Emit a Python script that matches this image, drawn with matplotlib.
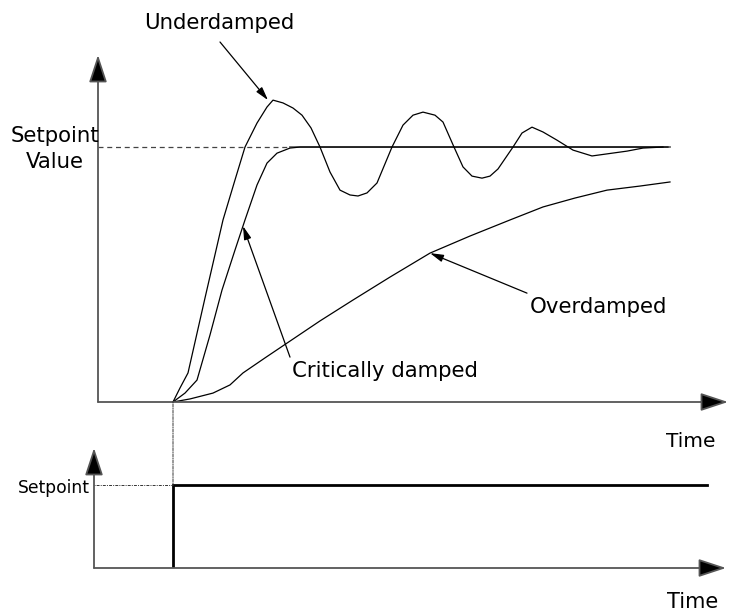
import matplotlib.pyplot as plt
from matplotlib.patches import ConnectionPatch
import numpy as np

plt.rcParams['font.family'] = ['DejaVu Sans']

W, H = 733, 614

# response curves, time in units after the step, value relative to setpoint
under_t = [0.0, 0.14, 0.3, 0.64, 1.0, 1.24, 1.44, 1.68, 1.88, 2.0, 2.2, 2.4, 2.58,
           2.76, 2.94, 3.14, 3.34, 3.54, 3.7, 3.88, 4.08, 4.38, 4.6, 4.8, 5.0,
           5.24, 5.4, 5.62, 5.8, 5.98, 6.18, 6.34, 6.5, 6.8, 6.98, 7.18, 7.4,
           7.68, 8.0, 8.38, 9.08, 9.4, 9.8]
under_v = [0.0, 0.055, 0.114, 0.408, 0.714, 0.871, 1.0, 1.094, 1.157, 1.184, 1.173,
           1.153, 1.125, 1.075, 1.0, 0.902, 0.831, 0.812, 0.808, 0.82, 0.859, 1.0,
           1.086, 1.125, 1.137, 1.125, 1.098, 1.0, 0.922, 0.886, 0.878, 0.886,
           0.914, 1.0, 1.055, 1.078, 1.059, 1.027, 0.988, 0.965, 0.984, 0.996, 1.0]

crit_t = [0.0, 0.24, 0.48, 0.74, 0.98, 1.24, 1.44, 1.68, 1.88, 2.08, 2.34, 2.54, 9.9]
crit_v = [0.0, 0.035, 0.086, 0.263, 0.439, 0.596, 0.714, 0.851, 0.937, 0.976,
          0.996, 1.0, 1.0]

over_t = [0.0, 0.34, 0.8, 1.14, 1.4, 1.84, 2.28, 2.94, 3.6, 4.34, 5.14, 5.94,
          6.74, 7.4, 8.04, 8.68, 9.34, 9.94]
over_v = [0.0, 0.012, 0.035, 0.067, 0.114, 0.173, 0.231, 0.318, 0.4, 0.49, 0.584,
          0.651, 0.714, 0.765, 0.8, 0.831, 0.847, 0.863]

# setpoint step input
step_t = [0.0, 0.0, 10.68]
step_v = [0.0, 1.0, 1.0]
setpoint = 1.0


def box(x0, y0, x1, y1):
    return [x0 / W, 1 - y1 / H, (x1 - x0) / W, (y1 - y0) / H]


def ptext(x, y, s, **kw):
    fig.text(x / W, 1 - y / H, s, **kw)


fig = plt.figure(figsize=(W / 100, H / 100), dpi=100)
top = fig.add_axes(box(98, 55, 728, 402))
bot = fig.add_axes(box(94, 448, 726, 568))

top.set_xlim(-1.5, 11.1)
top.set_ylim(0, 1.361)
bot.set_xlim(-1.58, 11.06)
bot.set_ylim(0, 1.446)

axis_col = '#555555'
for ax in (top, bot):
    ax.set_axis_off()
    for a, b in [((0, 0), (1, 0)), ((0, 0), (0, 1))]:
        ax.annotate('', xy=b, xytext=a, xycoords='axes fraction',
                    textcoords='axes fraction', annotation_clip=False,
                    arrowprops=dict(arrowstyle='-|>,head_length=0.85,head_width=0.28',
                                    mutation_scale=20, color=axis_col, lw=1.3,
                                    fc='black', ec=axis_col, shrinkA=0, shrinkB=0))

# setpoint level: dashed up to the critically damped curve, solid after
top.plot([-1.5, 2.34], [setpoint, setpoint], ls=(0, (4, 3)), color='#444444', lw=0.9)
top.plot([2.34, 9.94], [setpoint, setpoint], color='#666666', lw=1.3)

top.plot(under_t, under_v, color='black', lw=0.9)
top.plot(crit_t, crit_v, color='black', lw=0.9)
top.plot(over_t, over_v, color='black', lw=0.9)

bot.plot(step_t, step_v, color='black', lw=2.0, solid_joinstyle='miter')
bot.plot([-1.58, 0], [setpoint, setpoint], ls=(0, (1, 1.2, 3, 1.2)), color='#333333', lw=0.7)
con = ConnectionPatch(xyA=(0, 0), coordsA=top.transData, xyB=(0, 1), coordsB=bot.transData,
                      ls=(0, (1, 1.2, 3, 1.2)), color='#333333', lw=0.7)
fig.add_artist(con)

arrow = dict(arrowstyle='-|>,head_length=0.8,head_width=0.22', color='black', lw=0.9,
             shrinkA=0, shrinkB=0)
top.annotate('', xy=(1.9, 1.184), xytext=(0.94, 1.412), arrowprops=arrow,
             annotation_clip=False)
top.annotate('', xy=(1.4, 0.69), xytext=(2.34, 0.176), arrowprops=arrow)
top.annotate('', xy=(5.14, 0.584), xytext=(7.08, 0.427), arrowprops=arrow)

fs = 15.3
ptext(219, 29, 'Underdamped', ha='center', va='baseline', fontsize=fs)
ptext(55, 142, 'Setpoint', ha='center', va='baseline', fontsize=fs)
ptext(55, 168, 'Value', ha='center', va='baseline', fontsize=fs)
ptext(292, 377, 'Critically damped', ha='left', va='baseline', fontsize=fs)
ptext(530, 313, 'Overdamped', ha='left', va='baseline', fontsize=fs)
ptext(691, 447, 'Time', ha='center', va='baseline', fontsize=14.5)
ptext(693, 608, 'Time', ha='center', va='baseline', fontsize=15)
ptext(90, 493, 'Setpoint', ha='right', va='baseline', fontsize=12.3)

fig.savefig('out.png', dpi=100)
